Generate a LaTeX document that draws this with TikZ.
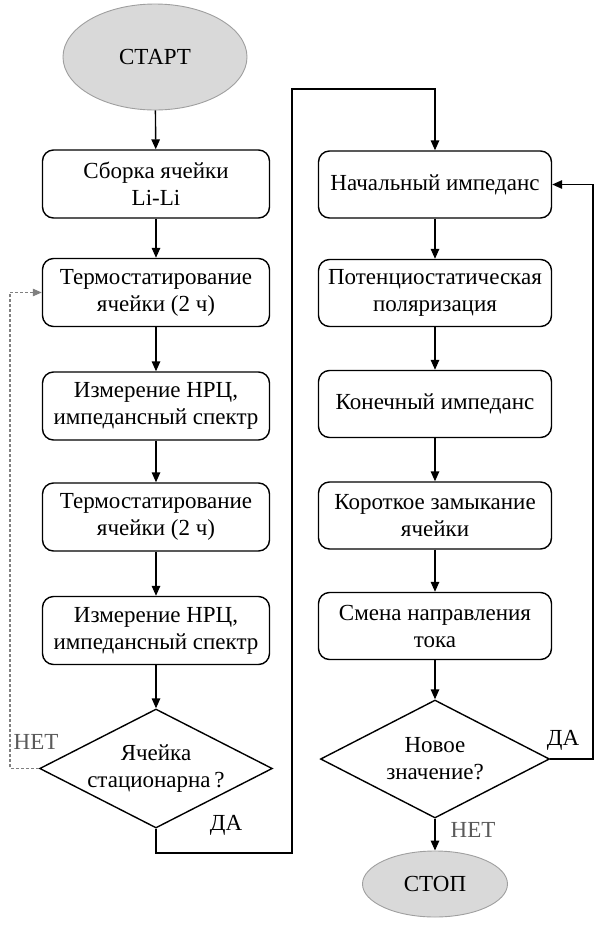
\documentclass[tikz,border=0pt]{standalone}
\usepackage{fontspec}
\setmainfont{Liberation Serif}
\usetikzlibrary{shapes.geometric,arrows.meta}
\newcommand{\fsz}{\fontsize{23}{27}\selectfont}
\definecolor{lblgray}{HTML}{5A5A5A}
\begin{document}
\begin{tikzpicture}[x=1pt,y=-1pt,
  stepbox/.style={draw, rounded corners=11pt, line width=1.4pt, minimum width=227pt, minimum height=68pt, align=center, inner sep=2pt, font=\fsz},
  rbox/.style={stepbox, minimum width=233pt, minimum height=67pt},
  dia/.style={diamond, draw, line width=1.4pt, aspect=2, minimum width=230pt, minimum height=119pt, align=center, inner sep=0pt, font=\fsz},
  term/.style={ellipse, draw=gray!75, line width=0.9pt, fill=gray!30, font=\fsz, inner sep=0pt},
  arr/.style={-{Triangle[length=10pt,width=8.5pt]}, line width=1.4pt},
  darr/.style={-{Triangle[length=9pt,width=7.5pt]}, line width=1.1pt, draw=gray, dash pattern=on 3pt off 2pt},
  lbl/.style={font=\fsz, inner sep=0pt}
]
\useasboundingbox (0,0) rectangle (595,927);
% left column
\node[term, minimum width=184pt, minimum height=106pt] (s) at (155,57) {СТАРТ};
\node[stepbox] (b1) at (156,184) {Сборка ячейки\\Li-Li};
\node[stepbox] (b2) at (156,292.5) {Термостатирование\\ячейки (2 ч)};
\node[stepbox] (b3) at (156,406) {Измерение НРЦ,\\импедансный спектр};
\node[stepbox] (b4) at (156,517) {Термостатирование\\ячейки (2 ч)};
\node[stepbox] (b5) at (156,630.5) {Измерение НРЦ,\\импедансный спектр};
\node[dia] (d1) at (156,768.5) {Ячейка\\стационарна\,?};
% right column
\node[rbox] (r1) at (435,184.5) {Начальный импеданс};
\node[rbox] (r2) at (435,293) {Потенциостатическая\\поляризация};
\node[rbox] (r3) at (435,404) {Конечный импеданс};
\node[rbox] (r4) at (435,515.5) {Короткое замыкание\\ячейки};
\node[rbox] (r5) at (435,626) {Смена направления\\тока};
\node[dia, minimum width=229pt, minimum height=118pt] (d2) at (435,759) {Новое\\значение?};
\node[term, minimum width=145pt, minimum height=66pt] (e) at (435,884) {СТОП};
% labels
\node[lbl, text=lblgray] (n1) at (36,742) {НЕТ};
\node[lbl] (y1) at (226,825) {ДА};
\node[lbl] (y2) at (563,740) {ДА};
\node[lbl, text=lblgray] (n2) at (473,830) {НЕТ};
% coordinates
\coordinate (dl) at (10,768.5);
\coordinate (c1) at (292,853);
\coordinate (c2) at (292,89);
\coordinate (rr) at (593,759);
% connectors
\draw[arr] (s) -- (b1);
\draw[arr] (b1) -- (b2);
\draw[arr] (b2) -- (b3);
\draw[arr] (b3) -- (b4);
\draw[arr] (b4) -- (b5);
\draw[arr] (b5) -- (d1);
\draw[darr] (d1.west) -- (dl) |- (b2.west);
\draw[arr] (d1.south) |- (c1) -- (c2) -| (r1.north);
\draw[arr] (r1) -- (r2);
\draw[arr] (r2) -- (r3);
\draw[arr] (r3) -- (r4);
\draw[arr] (r4) -- (r5);
\draw[arr] (r5) -- (d2);
\draw[arr] (d2) -- (e);
\draw[arr] (d2.east) -- (rr) |- (r1.east);
\end{tikzpicture}
\end{document}
